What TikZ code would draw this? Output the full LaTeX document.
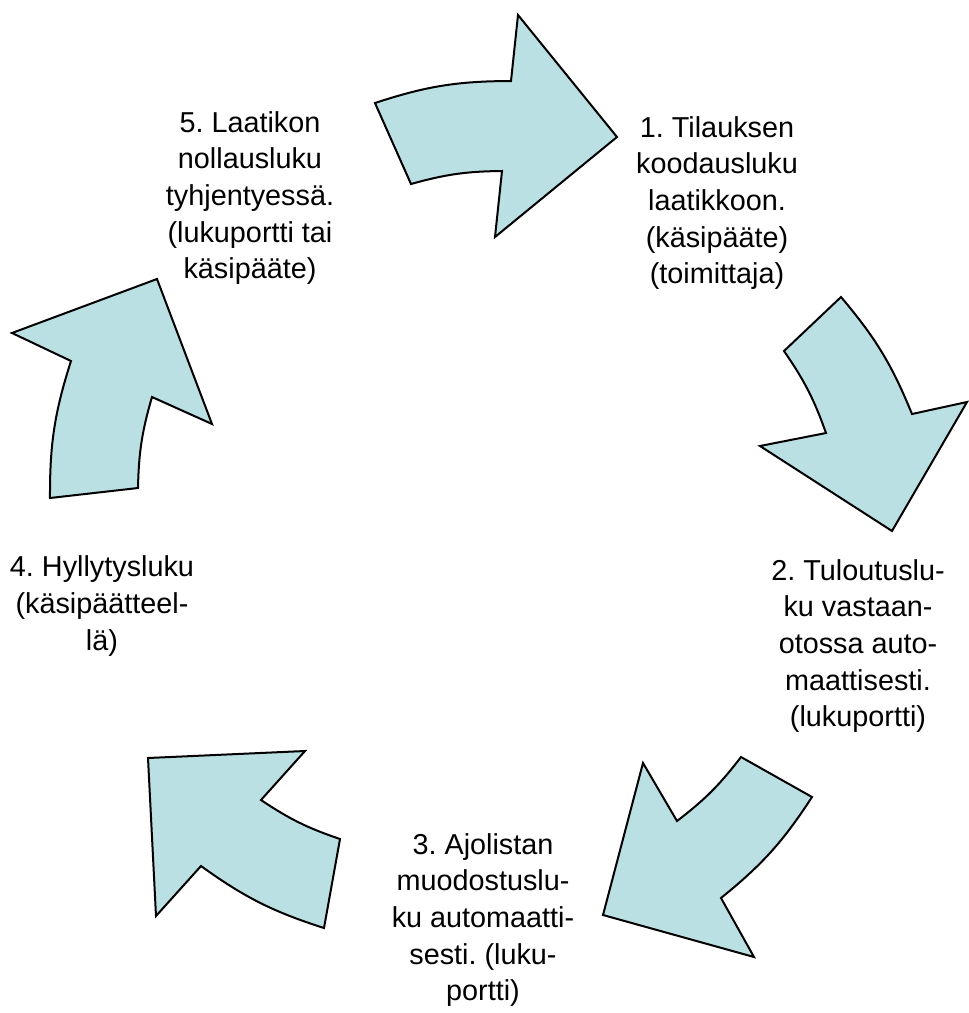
\documentclass[tikz,border=0pt]{standalone}
\usepackage{fontspec}
\setmainfont{Liberation Sans}
\usetikzlibrary{positioning}
\definecolor{nuolisininen}{RGB}{187,224,227}
\frenchspacing
\tikzset{
	nuoli/.style={
		fill=nuolisininen,
		draw=black, line width=1pt,
		line join=miter},
	teksti/.style={
		align=center,
		inner sep=0pt,
		font=\fontsize{14.4}{18.35}\selectfont},
	ulko/.style={bend left=9},
	sisa/.style={bend right=7.5},
}

\begin{document}
\begin{tikzpicture}[x=0.5pt, y=-0.5pt]
	\useasboundingbox (0,0) rectangle (969,1013);

	% The five curved arrows going round clockwise, each drawn as
	% tail (outer) -> notch -> head -> notch -> tail (inner).
	\draw [nuoli] (375,103) to[ulko] (511,81) -- (518,15) -- (617,137)
		-- (495,237) -- (502,171) to[sisa] (411,184) -- cycle;
	\draw [nuoli] (841,297) to[ulko] (912,414) -- (967,402) -- (892,531)
		-- (760,446) -- (826,433) to[sisa] (784,351) -- cycle;
	\draw [nuoli] (812,797) to[ulko] (721,898) -- (754,957) -- (603,915)
		-- (643,763) -- (677,821) to[sisa] (741,757) -- cycle;
	\draw [nuoli] (324,928) to[ulko] (201,866) -- (156,916) -- (148,758)
		-- (305,751) -- (261,800) to[sisa] (340,839) -- cycle;
	\draw [nuoli] (50,498) to[ulko] (71,361) -- (12,333) -- (157,279)
		-- (212,424) -- (152,397) to[sisa] (138,488) -- cycle;

	% The steps, between the arrows.
	\node [teksti] (tilaus) at (717,203) {1. Tilauksen\\koodausluku\\laatikkoon.\\(käsipääte)\\(toimittaja)};
	\node [teksti] (tulo) at (858,646) {2. Tuloutuslu-\\ku vastaan-\\otossa auto-\\maattisesti.\\(lukuportti)};
	\node [teksti] (ajolista) at (483,920) {3. Ajolistan\\muodostuslu-\\ku automaatti-\\sesti. (luku-\\portti)};
	\node [teksti] (hylly) at (102,606) {4. Hyllytysluku\\(käsipäätteel-\\lä)};
	\node [teksti] (nollaus) at (250,198) {5. Laatikon\\nollausluku\\tyhjentyessä.\\(lukuportti tai\\käsipääte)};
\end{tikzpicture}
\end{document}
